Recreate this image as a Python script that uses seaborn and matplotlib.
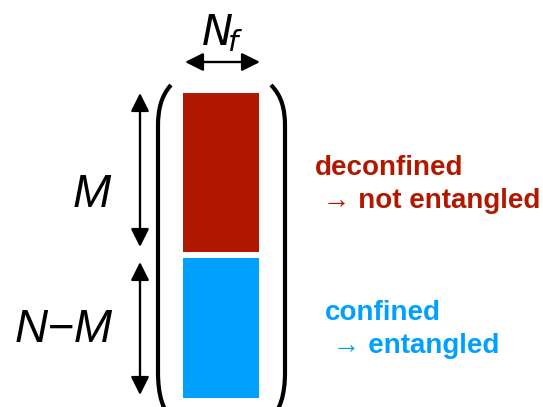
import matplotlib
matplotlib.use("Agg")
import matplotlib.pyplot as plt
import seaborn as sns
from matplotlib.patches import FancyArrowPatch, PathPatch
from matplotlib.path import Path

sns.set_theme(style="white")
plt.rcParams['font.family'] = ['Liberation Sans', 'DejaVu Sans']

# blocks of the column (pixel units, top to bottom)
block_names = ['M', 'N−M']
block_tops = [93, 258]
block_heights = [159, 140]
block_colors = ['#B01800', '#00A0FF']
col_left = 183
col_width = 76

captions = [('deconfined', ' → not entangled'), ('confined', ' → entangled')]
caption_x = [315, 325]
caption_y = [168, 313]

fig = plt.figure(figsize=(5.43, 4.07), dpi=100)
ax = fig.add_axes([0, 0, 1, 1])
ax.set_xlim(0, 543)
ax.set_ylim(407, 0)
ax.axis('off')

ax.bar([col_left] * 2, block_heights, bottom=block_tops, width=col_width,
       align='edge', color=block_colors, linewidth=0)

# parentheses
for sgn, x0, xv in [(1, 171, 158), (-1, 271, 285)]:
    verts = [(x0, 85), (xv + sgn * 3, 96), (xv, 110), (xv, 126),
             (xv, 372), (xv, 396), (xv + sgn * 5, 410), (x0 + sgn * 2, 422)]
    codes = [Path.MOVETO, Path.CURVE4, Path.CURVE4, Path.CURVE4,
             Path.LINETO, Path.CURVE4, Path.CURVE4, Path.CURVE4]
    ax.add_patch(PathPatch(Path(verts, codes), fill=False, lw=3, color='black',
                           capstyle='butt'))

def dbl_arrow(p0, p1):
    ax.add_patch(FancyArrowPatch(p0, p1, arrowstyle='<|-|>,head_length=1.1,head_width=0.55',
                                 mutation_scale=10, lw=1.7, color='black',
                                 shrinkA=0, shrinkB=0))

dbl_arrow((185, 62), (260, 62))
dbl_arrow((140, 93), (140, 247))
dbl_arrow((140, 262), (140, 395))

ax.text(222, 33, r'$N_{\!f}$', fontsize=30, ha='center', va='center',
        math_fontfamily='dejavusans', color='black')
ax.text(92, 195, 'M', fontsize=33, fontstyle='italic', ha='center', va='center',
        color='black')
ax.text(64, 330, 'N−M', fontsize=33, fontstyle='italic', ha='center', va='center',
        color='black')

for (a, b), x, y, c in zip(captions, caption_x, caption_y, block_colors):
    ax.text(x, y, a, fontsize=20, fontweight='bold', color=c, ha='left', va='center')
    ax.text(x, y + 33, b, fontsize=20, fontweight='bold', color=c, ha='left', va='center')

fig.savefig('out.png', dpi=100)
